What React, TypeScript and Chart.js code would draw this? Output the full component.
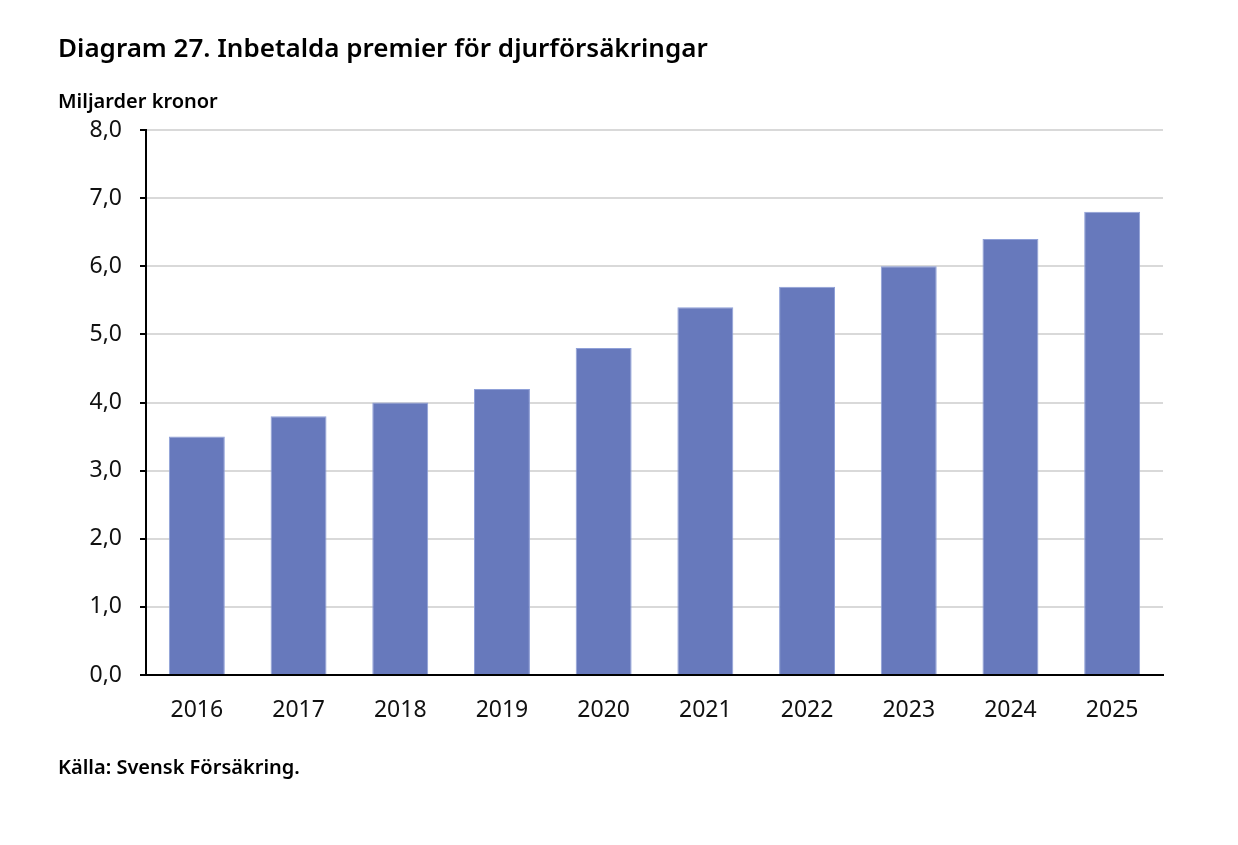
import React, { useEffect, useRef } from 'react';
import Chart from 'chart.js/auto';

// data
const years = ['2016', '2017', '2018', '2019', '2020', '2021', '2022', '2023', '2024', '2025'];
const premiums = [3.5, 3.8, 4.0, 4.2, 4.8, 5.4, 5.7, 6.0, 6.4, 6.8];

const titleText = 'Diagram 27. Inbetalda premier för djurförsäkringar';
const unitText = 'Miljarder kronor';
const sourceText = 'Källa: Svensk Försäkring.';

const FONT = '"Noto Sans", "Open Sans", sans-serif';

const App: React.FC = () => {
  const canvasRef = useRef<HTMLCanvasElement | null>(null);
  const chartRef = useRef<Chart | null>(null);

  useEffect(() => {
    if (chartRef.current) chartRef.current.destroy();
    const ctx = canvasRef.current?.getContext('2d');
    if (!ctx) return;

    chartRef.current = new Chart(ctx, {
      type: 'bar',
      data: {
        labels: years,
        datasets: [
          {
            label: unitText,
            data: premiums,
            backgroundColor: '#6779bc',
            borderColor: '#8fa0d8',
            borderWidth: 1,
            barPercentage: 0.55,
            categoryPercentage: 1,
          },
        ],
      },
      options: {
        responsive: false,
        animation: false,
        maintainAspectRatio: false,
        layout: { padding: { top: 130, left: 0, right: 75, bottom: 110 } },
        plugins: {
          legend: { display: false },
          tooltip: { enabled: false },
        },
        scales: {
          x: {
            grid: { display: false },
            border: { color: '#000', width: 2 },
            ticks: {
              color: '#111',
              padding: 14,
              font: { family: FONT, size: 23 },
            },
            afterFit: (s: any) => {
              s.height = 60;
            },
          },
          y: {
            min: 0,
            max: 8,
            border: { color: '#000', width: 2 },
            grid: {
              color: '#d9d9d9',
              lineWidth: 2,
              tickColor: '#000',
              tickLength: 6,
              drawOnChartArea: true,
            },
            ticks: {
              stepSize: 1,
              color: '#111',
              padding: 18,
              font: { family: FONT, size: 23 },
              callback: (v: any) => Number(v).toFixed(1).replace('.', ','),
            },
            afterFit: (s: any) => {
              s.width = 146;
            },
          },
        },
      },
    });

    return () => {
      if (chartRef.current) {
        chartRef.current.destroy();
        chartRef.current = null;
      }
    };
  }, []);

  return (
    <div style={{ position: 'absolute', left: 0, top: 0, width: 1238, height: 845, background: '#fff', fontFamily: FONT, color: '#000' }}>
      <canvas ref={canvasRef} width={1238} height={845} style={{ position: 'absolute', left: 0, top: 0, width: 1238, height: 845 }} />
      <div style={{ position: 'absolute', left: 58, top: 29, fontSize: 26, fontWeight: 600, whiteSpace: 'nowrap' }}>{titleText}</div>
      <div style={{ position: 'absolute', left: 58, top: 87, fontSize: 20, fontWeight: 600, whiteSpace: 'nowrap' }}>{unitText}</div>
      <div style={{ position: 'absolute', left: 58, top: 753, fontSize: 20, fontWeight: 600, whiteSpace: 'nowrap' }}>{sourceText}</div>
    </div>
  );
};

export default App;
